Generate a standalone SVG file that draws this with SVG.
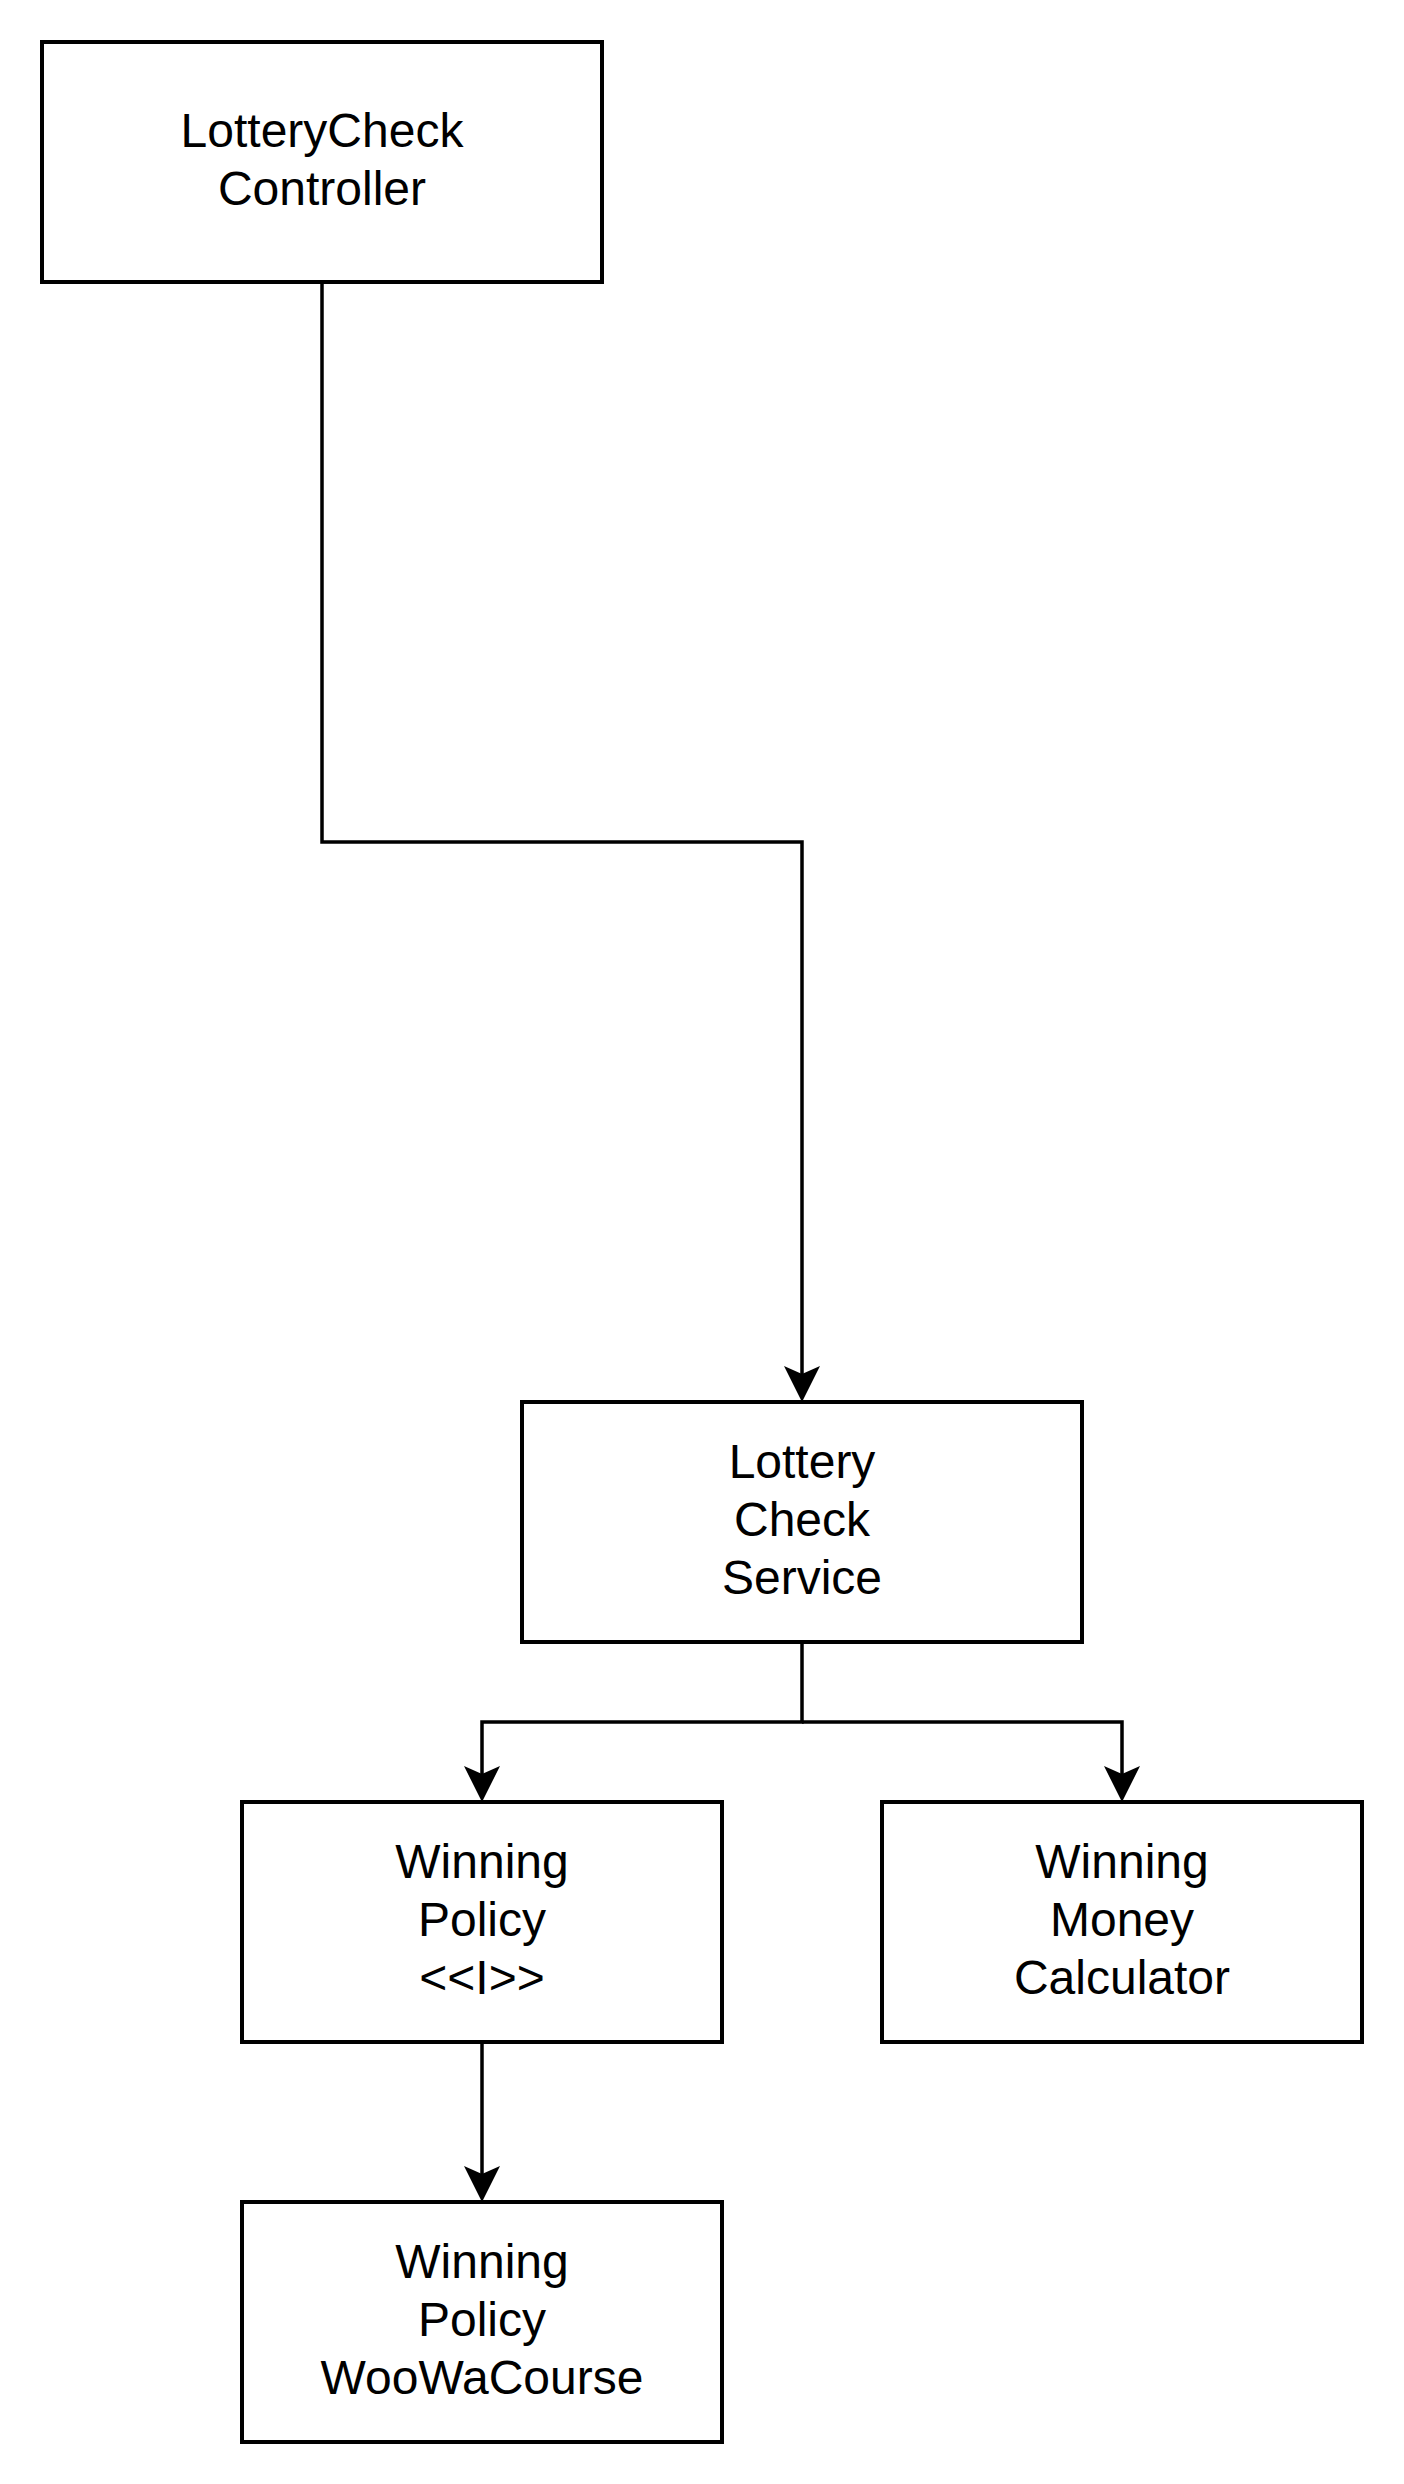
<svg xmlns="http://www.w3.org/2000/svg" width="1404" height="2484" viewBox="0 0 1404 2484">
  <style>
    .box { fill: #ffffff; stroke: #000000; stroke-width: 4; }
    .lbl { font-family: "Liberation Sans", Arial, Helvetica, sans-serif; font-size: 48px; fill: #000000; text-anchor: middle; }
    .edge { fill: none; stroke: #000000; stroke-width: 3.5; }
  </style>
  <defs>
    <marker id="arrow" viewBox="0 0 36 36" refX="8" refY="18" markerWidth="36" markerHeight="36" markerUnits="userSpaceOnUse" orient="auto">
      <path d="M36,18 L0,0 L8,18 L0,36 Z" fill="#000000"/>
    </marker>
  </defs>
  <rect width="1404" height="2484" fill="#ffffff"/>

  <g id="connectors">
    <path class="edge" d="M322,282 L322,842 L802,842 L802,1374" marker-end="url(#arrow)"/>
    <path class="edge" d="M802,1642 L802,1722 L482,1722 L482,1774" marker-end="url(#arrow)"/>
    <path class="edge" d="M802,1722 L1122,1722 L1122,1774" marker-end="url(#arrow)"/>
    <path class="edge" d="M482,2042 L482,2174" marker-end="url(#arrow)"/>
  </g>

  <g id="node-controller">
    <rect class="box" x="42" y="42" width="560" height="240"/>
    <text class="lbl" x="322" y="147">LotteryCheck</text>
    <text class="lbl" x="322" y="205">Controller</text>
  </g>

  <g id="node-service">
    <rect class="box" x="522" y="1402" width="560" height="240"/>
    <text class="lbl" x="802" y="1478">Lottery</text>
    <text class="lbl" x="802" y="1536">Check</text>
    <text class="lbl" x="802" y="1594">Service</text>
  </g>

  <g id="node-policy">
    <rect class="box" x="242" y="1802" width="480" height="240"/>
    <text class="lbl" x="482" y="1878">Winning</text>
    <text class="lbl" x="482" y="1936">Policy</text>
    <text class="lbl" x="482" y="1994">&lt;&lt;I&gt;&gt;</text>
  </g>

  <g id="node-money">
    <rect class="box" x="882" y="1802" width="480" height="240"/>
    <text class="lbl" x="1122" y="1878">Winning</text>
    <text class="lbl" x="1122" y="1936">Money</text>
    <text class="lbl" x="1122" y="1994">Calculator</text>
  </g>

  <g id="node-woowa">
    <rect class="box" x="242" y="2202" width="480" height="240"/>
    <text class="lbl" x="482" y="2278">Winning</text>
    <text class="lbl" x="482" y="2336">Policy</text>
    <text class="lbl" x="482" y="2394">WooWaCourse</text>
  </g>
</svg>
